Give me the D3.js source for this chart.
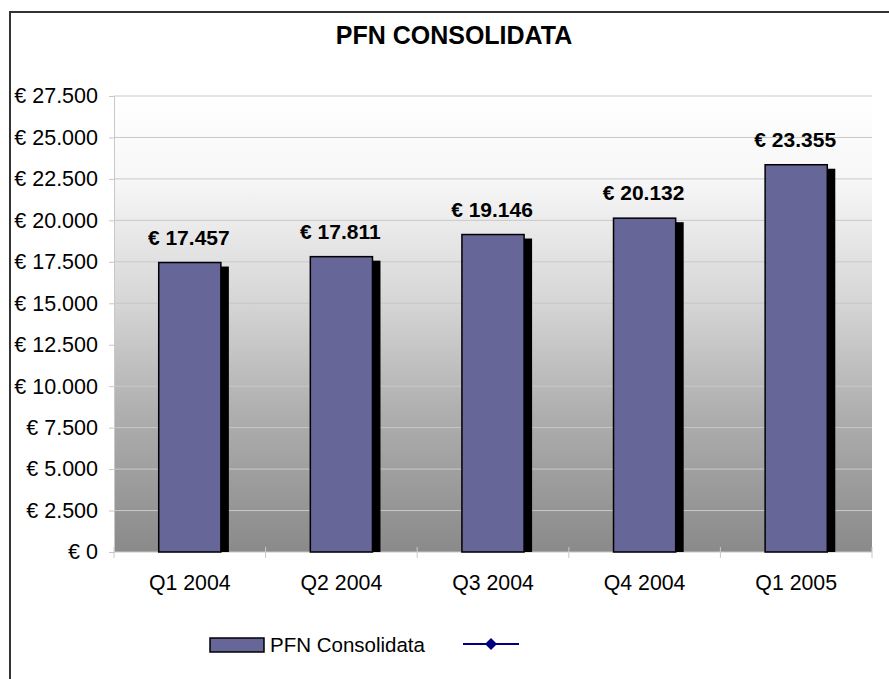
<!DOCTYPE html>
<html>
<head>
<meta charset="utf-8">
<script src="https://cdn.jsdelivr.net/npm/d3@7"></script>
<style>
  html, body { margin: 0; padding: 0; background: #fff; }
  svg { display: block; font-family: "Liberation Sans", Arial, sans-serif; }
</style>
</head>
<body>
<svg id="chart" width="889" height="679"></svg>
<script>
const categories = ["Q1 2004", "Q2 2004", "Q3 2004", "Q4 2004", "Q1 2005"];
const values = [17457, 17811, 19146, 20132, 23355];
const yTicks = [0, 2500, 5000, 7500, 10000, 12500, 15000, 17500, 20000, 22500, 25000, 27500];
const seriesName = "PFN Consolidata";
const title = "PFN CONSOLIDATA";

const svg = d3.select("#chart");
const plot = { left: 114, right: 872, top: 96, bottom: 552 };

const locale = d3.formatLocale({ decimal: ",", thousands: ".", grouping: [3], currency: ["€ ", ""] });
const fmt = locale.format("$,.0f");

const x = d3.scaleBand().domain(categories).range([plot.left, plot.right]).paddingInner(0).paddingOuter(0);
const y = d3.scaleLinear().domain([0, 27500]).range([plot.bottom, plot.top]);

// background gradient
const defs = svg.append("defs");
const grad = defs.append("linearGradient").attr("id", "bg").attr("x1", 0).attr("y1", 0).attr("x2", 0).attr("y2", 1);
[[0, "#ffffff"], [0.18, "#f7f7f7"], [0.45, "#d6d6d6"], [0.7, "#aeaeae"], [1, "#8a8a8a"]].forEach(([o, c]) =>
  grad.append("stop").attr("offset", o).attr("stop-color", c));

// outer frame
svg.append("path")
  .attr("d", `M10,700 L10,12 L900,12`)
  .attr("fill", "none").attr("stroke", "#333").attr("stroke-width", 2);

// title
svg.append("text").attr("x", 454).attr("y", 44).attr("text-anchor", "middle")
  .attr("font-size", 25).attr("font-weight", "bold").attr("fill", "#000").text(title);

// plot area
svg.append("rect").attr("x", plot.left).attr("y", plot.top)
  .attr("width", plot.right - plot.left).attr("height", plot.bottom - plot.top)
  .attr("fill", "url(#bg)");

// gridlines
svg.append("g").selectAll("line").data(yTicks.filter(d => d > 0)).join("line")
  .attr("x1", plot.left).attr("x2", plot.right)
  .attr("y1", d => y(d)).attr("y2", d => y(d))
  .attr("stroke", "#c8c8c8").attr("stroke-width", 1);

// y axis
const yAxis = d3.axisLeft(y).tickValues(yTicks).tickFormat(fmt).tickSize(5).tickPadding(11);
const gy = svg.append("g").attr("transform", `translate(${plot.left},0)`).call(yAxis);
gy.select(".domain").attr("stroke", "#c8c8c8");
gy.selectAll(".tick line").attr("stroke", "#c8c8c8");
gy.selectAll(".tick text").attr("font-size", 21.5).attr("fill", "#000")
  .attr("font-family", "'Liberation Sans', Arial, sans-serif");

// x axis
const gx = svg.append("g").attr("transform", `translate(0,${plot.bottom})`);
gx.append("line").attr("x1", plot.left).attr("x2", plot.right).attr("y1", 0).attr("y2", 0).attr("stroke", "#c8c8c8");
const boundaries = categories.map(c => x(c)).concat([plot.right]);
gx.selectAll("line.t").data(boundaries).join("line").attr("class", "t")
  .attr("x1", d => d).attr("x2", d => d).attr("y1", -5).attr("y2", 6).attr("stroke", "#c8c8c8");
gx.selectAll("text").data(categories).join("text")
  .attr("x", d => x(d) + x.bandwidth() / 2).attr("y", 38)
  .attr("text-anchor", "middle").attr("font-size", 21.3).attr("fill", "#000").text(d => d);

// bars
const bw = x.bandwidth() * 0.41;
const data = categories.map((c, i) => ({ c, v: values[i] }));
const bars = svg.append("g");
bars.selectAll("rect.shadow").data(data).join("rect").attr("class", "shadow")
  .attr("x", d => x(d.c) + x.bandwidth() / 2 - bw / 2 + 8)
  .attr("y", d => y(d.v) + 4)
  .attr("width", bw).attr("height", d => plot.bottom - y(d.v) - 4)
  .attr("fill", "#000");
bars.selectAll("rect.bar").data(data).join("rect").attr("class", "bar")
  .attr("x", d => x(d.c) + x.bandwidth() / 2 - bw / 2)
  .attr("y", d => y(d.v))
  .attr("width", bw).attr("height", d => plot.bottom - y(d.v))
  .attr("fill", "#666699").attr("stroke", "#000").attr("stroke-width", 1.5);

// value labels
svg.append("g").selectAll("text").data(data).join("text")
  .attr("x", d => x(d.c) + x.bandwidth() / 2 - 1)
  .attr("y", d => y(d.v) - 18)
  .attr("text-anchor", "middle").attr("font-size", 21).attr("font-weight", "bold").attr("fill", "#000")
  .text(d => fmt(d.v));

// legend
const lg = svg.append("g");
lg.append("rect").attr("x", 210).attr("y", 638).attr("width", 54).attr("height", 14)
  .attr("fill", "#666699").attr("stroke", "#000").attr("stroke-width", 1.5);
lg.append("text").attr("x", 270).attr("y", 652).attr("font-size", 20.5).attr("fill", "#000")
  .text(seriesName);
lg.append("line").attr("x1", 463).attr("x2", 519).attr("y1", 644).attr("y2", 644)
  .attr("stroke", "#000080").attr("stroke-width", 2);
lg.append("path").attr("d", "M491,638 L497,644 L491,650 L485,644 Z").attr("fill", "#000080");
</script>
</body>
</html>
